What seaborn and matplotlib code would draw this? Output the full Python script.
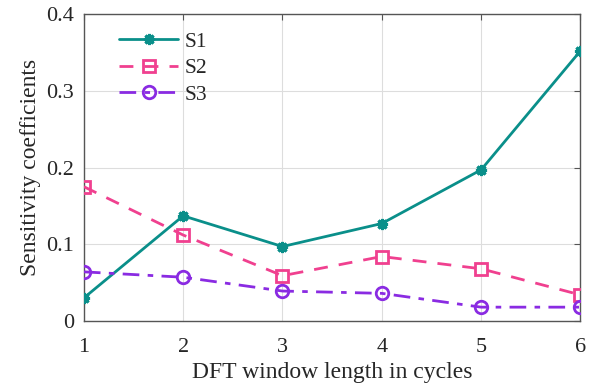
import matplotlib
matplotlib.use("Agg")
import matplotlib.pyplot as plt
import seaborn as sns
import pandas as pd

cycles = [1, 2, 3, 4, 5, 6]
s1 = [0.030, 0.137, 0.097, 0.127, 0.197, 0.352]
s2 = [0.175, 0.112, 0.059, 0.084, 0.068, 0.034]
s3 = [0.064, 0.057, 0.039, 0.036, 0.018, 0.018]
names = ["S1", "S2", "S3"]

sns.set_style("white")
plt.rcParams["font.family"] = ["Liberation Serif", "DejaVu Serif"]

df = pd.DataFrame({
    "x": cycles * 3,
    "y": s1 + s2 + s3,
    "s": [names[0]] * 6 + [names[1]] * 6 + [names[2]] * 6,
})

fig = plt.figure(figsize=(5.99, 3.90), dpi=100)
ax = fig.add_axes([0.140, 0.177, 0.829, 0.787])

styles = {
    "S1": dict(color="#0a8f8a", ls="-", marker=(8, 2, 0), ms=8, mew=2.2, mfc="#0a8f8a"),
    "S2": dict(color="#f0408f", ls=(0, (5, 4)), marker="s", ms=8, mew=2, mfc="none"),
    "S3": dict(color="#8a2be2", ls=(0, (6, 3, 2, 3)), marker="o", ms=9, mew=2, mfc="none"),
}
for n in names:
    st = styles[n]
    sub = df[df["s"] == n]
    sns.lineplot(data=sub, x="x", y="y", ax=ax, color=st["color"], linestyle=st["ls"],
                 linewidth=2, marker=st["marker"], markersize=st["ms"],
                 markeredgewidth=st["mew"], markerfacecolor=st["mfc"],
                 markeredgecolor=st["color"], label=n, zorder=3)

ax.set_xlim(1, 6)
ax.set_ylim(0, 0.4)
ax.set_xticks(cycles)
ax.set_yticks([0, 0.1, 0.2, 0.3, 0.4])
ax.set_yticklabels(["0", "0.1", "0.2", "0.3", "0.4"])
ax.grid(True, color="#dddddd", linewidth=0.8)
for sp in ax.spines.values():
    sp.set_visible(True)
    sp.set_color("#555555")
    sp.set_linewidth(1.0)
ax.tick_params(direction="in", top=True, right=True, length=4, width=0.8,
               color="#555555", labelsize=16)
ax.tick_params(axis="x", pad=12)
ax.tick_params(axis="y", pad=7)
ax.set_xlabel("DFT window length in cycles", fontsize=17, labelpad=4)
ax.set_ylabel("Sensitivity coefficients", fontsize=17, labelpad=4)

leg = ax.legend(loc="upper left", bbox_to_anchor=(0.045, 0.985), frameon=False,
                fontsize=15.5, handlelength=2.75, handletextpad=0.3, labelspacing=0.3,
                borderaxespad=0.2)

fig.savefig("out.png", dpi=100)
